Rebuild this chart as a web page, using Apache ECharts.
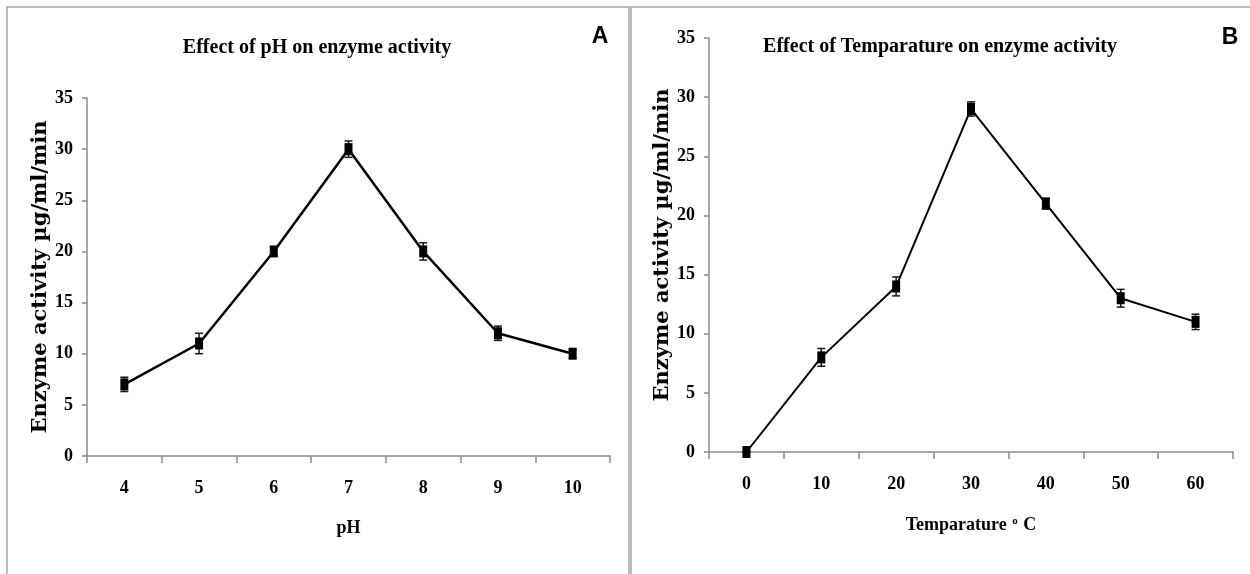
<!DOCTYPE html>
<html>
<head>
<meta charset="utf-8">
<title>Effect of pH and Temparature on enzyme activity</title>
<script src="https://cdn.jsdelivr.net/npm/echarts@6/dist/echarts.min.js"></script>
<style>
  html, body { margin: 0; padding: 0; background: #fff; }
  #chart { width: 1250px; height: 574px; }
</style>
</head>
<body>
<div id="chart"></div>
<script>
// panel A - pH
const phLabels = ['4', '5', '6', '7', '8', '9', '10']
const phActivity = [7, 11, 20, 30, 20, 12, 10]
const phError = [0.7, 1.0, 0.4, 0.8, 0.85, 0.7, 0.4]

// panel B - temparature
const tempLabels = ['0', '10', '20', '30', '40', '50', '60']
const tempActivity = [0, 8, 14, 29, 21, 13, 11]
const tempError = [0, 0.75, 0.8, 0.6, 0.45, 0.75, 0.65]

const yTicks = { min: 0, max: 35, interval: 5 }

const serif = '"Liberation Serif", "Times New Roman", serif'
const axisGray = '#8c8c8c'

// error bar rows [index, low, high]
function errorRows(values, errors) {
  return values.map((v, i) => [i, v - errors[i], v + errors[i]])
}

function renderError(params, api) {
  const x = api.value(0)
  const top = api.coord([x, api.value(2)])
  const bottom = api.coord([x, api.value(1)])
  const half = 4
  const style = { stroke: '#1a1a1a', lineWidth: 1.5 }
  return {
    type: 'group',
    children: [
      { type: 'line', shape: { x1: top[0], y1: top[1], x2: bottom[0], y2: bottom[1] }, style },
      { type: 'line', shape: { x1: top[0] - half, y1: top[1], x2: top[0] + half, y2: top[1] }, style },
      { type: 'line', shape: { x1: bottom[0] - half, y1: bottom[1], x2: bottom[0] + half, y2: bottom[1] }, style }
    ]
  }
}

function xAxisFor(gridIndex, data, name, gap) {
  return {
    type: 'category',
    gridIndex,
    data,
    boundaryGap: true,
    name,
    nameLocation: 'middle',
    nameGap: gap,
    nameTextStyle: {
      fontFamily: serif, fontWeight: 'bold', fontSize: 18, color: '#000',
      rich: {
        s: { fontFamily: serif, fontWeight: 'bold', fontSize: 11, color: '#000', verticalAlign: 'top', padding: [0, 1, 8, 1] }
      }
    },
    axisLine: { lineStyle: { color: axisGray, width: 1.5 } },
    axisTick: { show: true, inside: false, length: 7, alignWithLabel: false, lineStyle: { color: axisGray, width: 1.5 } },
    axisLabel: { fontFamily: serif, fontWeight: 'bold', fontSize: 18, color: '#000', margin: 23 },
    splitLine: { show: false }
  }
}

function yAxisFor(gridIndex) {
  return {
    type: 'value',
    gridIndex,
    min: yTicks.min,
    max: yTicks.max,
    interval: yTicks.interval,
    name: 'Enzyme activity µg/ml/min',
    nameLocation: 'middle',
    nameRotate: 90,
    nameGap: 33,
    nameTextStyle: { fontFamily: '"DejaVu Serif", serif', fontWeight: 'bold', fontSize: 21, color: '#000' },
    axisLine: { show: true, lineStyle: { color: axisGray, width: 1.5 } },
    axisTick: { show: true, length: 5, lineStyle: { color: axisGray, width: 1.5 } },
    axisLabel: { fontFamily: serif, fontWeight: 'bold', fontSize: 18, color: '#000', margin: 14 },
    splitLine: { show: false }
  }
}

function lineSeries(index, values, width) {
  return {
    type: 'line',
    xAxisIndex: index,
    yAxisIndex: index,
    data: values,
    symbol: 'rect',
    symbolSize: [8, 12],
    showAllSymbol: true,
    lineStyle: { color: '#000', width },
    itemStyle: { color: '#000' },
    z: 3,
    animation: false
  }
}

function errorSeries(index, values, errors) {
  return {
    type: 'custom',
    xAxisIndex: index,
    yAxisIndex: index,
    data: errorRows(values, errors),
    renderItem: renderError,
    z: 2,
    silent: true,
    animation: false
  }
}

const chart = echarts.init(document.getElementById('chart'), null, { renderer: 'canvas' })

const option = {
  backgroundColor: '#fff',
  animation: false,
  title: [
    {
      text: 'Effect of pH on enzyme activity',
      left: 317, top: 38, textAlign: 'center', padding: 0,
      textStyle: { fontFamily: serif, fontWeight: 'bold', fontSize: 20, color: '#000' }
    },
    {
      text: 'Effect of Temparature on enzyme activity',
      left: 940, top: 37, textAlign: 'center', padding: 0,
      textStyle: { fontFamily: serif, fontWeight: 'bold', fontSize: 20, color: '#000' }
    }
  ],
  // panel frames and letters
  graphic: [
    { type: 'rect', shape: { x: 7, y: 7, width: 622, height: 600 }, style: { fill: 'none', stroke: '#a6a6a6', lineWidth: 1.5 }, silent: true },
    { type: 'rect', shape: { x: 631, y: 7, width: 640, height: 600 }, style: { fill: 'none', stroke: '#a6a6a6', lineWidth: 1.5 }, silent: true },
    { type: 'text', x: 600, y: 37, style: { text: 'A', font: 'bold 23px "Liberation Sans", Arial, sans-serif', fill: '#000', textAlign: 'center', textVerticalAlign: 'middle' } },
    { type: 'text', x: 1230, y: 38, style: { text: 'B', font: 'bold 23px "Liberation Sans", Arial, sans-serif', fill: '#000', textAlign: 'center', textVerticalAlign: 'middle' } }
  ],
  grid: [
    { left: 87, top: 98, width: 523, height: 358 },
    { left: 709, top: 38, width: 524, height: 414 }
  ],
  xAxis: [
    xAxisFor(0, phLabels, 'pH', 63),
    xAxisFor(1, tempLabels, 'Temparature {s|o} C', 64)
  ],
  yAxis: [yAxisFor(0), yAxisFor(1)],
  series: [
    errorSeries(0, phActivity, phError),
    lineSeries(0, phActivity, 2.5),
    errorSeries(1, tempActivity, tempError),
    lineSeries(1, tempActivity, 2)
  ]
}

chart.setOption(option)
</script>
</body>
</html>
